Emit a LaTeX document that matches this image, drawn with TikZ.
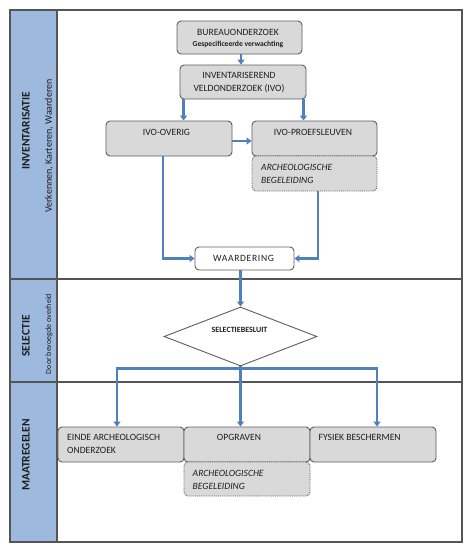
\documentclass[tikz,border=0pt]{standalone}
\usepackage{fontspec}
\setmainfont{Carlito}
\usetikzlibrary{shapes.geometric,arrows.meta,positioning}
\definecolor{band}{HTML}{9DB9DE}
\definecolor{boxfill}{HTML}{D9D9D9}
\definecolor{boxline}{HTML}{5E5E5E}
\definecolor{frame}{HTML}{555555}
\definecolor{flow}{HTML}{4F81BD}
\definecolor{ink}{HTML}{1E1E1E}
\tikzset{
  stepbox/.style={draw=boxline, fill=boxfill, rounded corners=4pt, line width=0.9pt, inner sep=0pt},
  dotbox/.style={draw=boxline, fill=boxfill, rounded corners=4pt, line width=0.9pt, densely dotted, inner sep=0pt},
  whitebox/.style={draw=boxline, fill=white, rounded corners=4pt, line width=0.9pt, inner sep=0pt},
  txt/.style={text=ink, font=\fontsize{9.6}{12}\selectfont, inner sep=0pt},
  itxt/.style={text=ink, font=\fontsize{9.6}{12}\selectfont\itshape, inner sep=0pt, align=left},
  lanetitle/.style={rotate=90, text=ink, font=\fontsize{11.5}{13}\selectfont\bfseries, inner sep=0pt},
  lanesub/.style={rotate=90, text=ink, font=\fontsize{10}{12}\selectfont, inner sep=0pt},
  arr/.style={draw=flow, line width=2.4pt, -{Triangle[width=7pt,length=5pt]}},
  lane/.style={draw=frame, line width=1.1pt}
}
\begin{document}
\begin{tikzpicture}[x=1pt,y=-1pt]
\useasboundingbox (0,0) rectangle (474,557);
% frame and lanes
\fill[white] (0,0) rectangle (474,557);
\fill[band] (10,10) rectangle (57,542);
\draw[lane] (57,10) -- (57,542);
\draw[lane] (10,279) -- (462,279);
\draw[lane] (10,382) -- (462,382);
\draw[lane] (10,10) rectangle (462,542);
% lane labels
\node[lanetitle] (t1) at (26,131) {INVENTARISATIE};
\node[lanesub] (s1) at (49,146) {Verkennen, Karteren, Waarderen};
\node[lanetitle] (t2) at (26,336) {SELECTIE};
\node[lanesub, font=\fontsize{8}{10}\selectfont] (s2) at (49,334) {Door bevoegde overheid};
\node[lanetitle] (t3) at (26,455) {MAATREGELEN};
% boxes
\node[stepbox, minimum width=125pt, minimum height=33pt] (bureau) at (239.5,37.5) {};
\node[txt] (bureauT) at (238,32) {BUREAUONDERZOEK};
\node[txt, font=\fontsize{7.6}{9}\selectfont\bfseries] (bureauS) at (238,44.5) {Gespecificeerde verwachting};
\node[stepbox, minimum width=126pt, minimum height=34pt] (inv) at (243,82) {};
\node[txt, align=center] (invT) at (239,82.5) {INVENTARISEREND\\[1pt]VELDONDERZOEK (IVO)};
\node[stepbox, minimum width=126pt, minimum height=35pt] (ivoov) at (169,138.5) {};
\node[txt] (ivoovT) at (166.5,132) {IVO-OVERIG};
\node[stepbox, minimum width=125pt, minimum height=35pt] (ivopr) at (314.5,138.5) {};
\node[txt] (ivoprT) at (313,132) {IVO-PROEFSLEUVEN};
\node[dotbox, minimum width=125pt, minimum height=35pt] (arch1) at (314.5,173.5) {};
\node[itxt, anchor=west] (arch1T) at (261,174) {ARCHEOLOGISCHE\\[1pt]BEGELEIDING};
\node[whitebox, minimum width=99pt, minimum height=23pt] (waard) at (244.5,258.5) {};
\node[txt, font=\fontsize{9.6}{12}\selectfont\addfontfeature{LetterSpace=7}] (waardT) at (243.5,258) {WAARDERING};
\node[diamond, draw=boxline, fill=white, line width=0.9pt, minimum width=153pt, minimum height=59pt, aspect=2.6, inner sep=0pt] (sel) at (240.5,336.5) {};
\node[txt, font=\fontsize{8}{10}\selectfont\bfseries] (selT) at (239.5,329.5) {SELECTIEBESLUIT};
\node[stepbox, minimum width=126pt, minimum height=35pt] (einde) at (121,444.5) {};
\node[txt, anchor=west, align=left] (eindeT) at (67,443.5) {EINDE ARCHEOLOGISCH\\[1pt]ONDERZOEK};
\node[stepbox, minimum width=126pt, minimum height=35pt] (opg) at (247,444.5) {};
\node[txt] (opgT) at (239,437.5) {OPGRAVEN};
\node[stepbox, minimum width=126pt, minimum height=35pt] (fys) at (373,444.5) {};
\node[txt, anchor=west] (fysT) at (318.5,437.5) {FYSIEK BESCHERMEN};
\node[dotbox, minimum width=126pt, minimum height=34pt] (arch2) at (247,479) {};
\node[itxt, anchor=west] (arch2T) at (192.5,479.5) {ARCHEOLOGISCHE\\[1pt]BEGELEIDING};
% connectors
\draw[arr] ([xshift=1.5pt]bureau.south) -- ([xshift=1.5pt]bureau.south |- inv.north);
\draw[arr] ([xshift=4pt]inv.south west) -- ([xshift=4pt]inv.south west |- ivoov.north);
\draw[arr] ([xshift=-3pt]inv.south east) -- ([xshift=-3pt]inv.south east |- ivopr.north);
\draw[arr] ([yshift=-2.5pt]ivoov.east) -- ([yshift=-2.5pt]ivoov.east -| ivopr.west);
\draw[arr] ([xshift=-6pt]ivoov.south) |- (waard.west);
\draw[arr] ([xshift=3.5pt]arch1.south) |- (waard.east);
\draw[arr] (sel.north |- waard.south) -- (sel.north);
\coordinate (split) at ([yshift=-2pt]sel.south);
\draw[flow, line width=2.4pt] (sel.south) -- (split);
\draw[arr] (split) -| ([xshift=-4pt]einde.north);
\draw[arr] (split) -| ([xshift=4pt]fys.north);
\draw[arr] (split) -- (split |- opg.north);
\end{tikzpicture}
\end{document}
